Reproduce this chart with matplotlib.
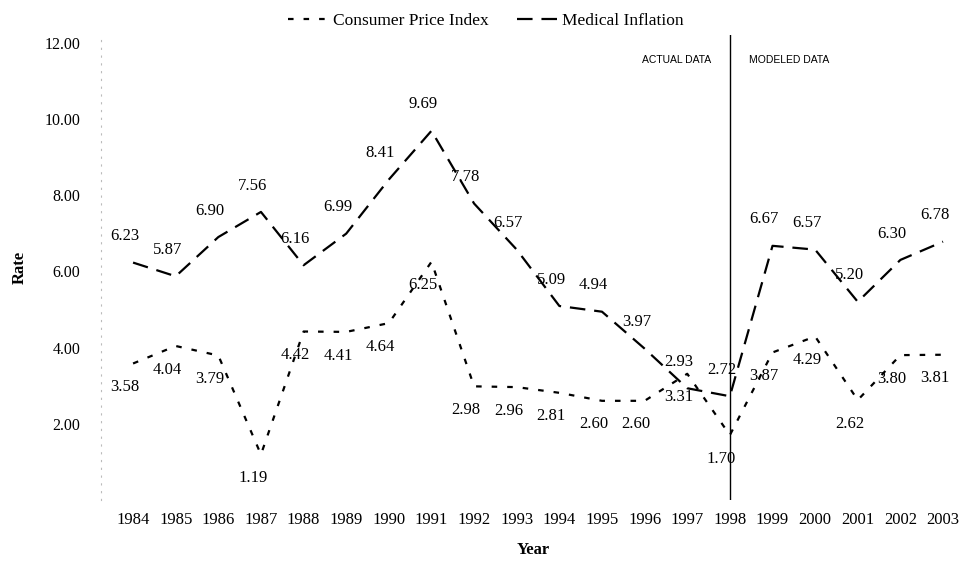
import matplotlib
matplotlib.use("Agg")
import matplotlib.pyplot as plt

years = list(range(1984, 2004))
cpi = [3.58, 4.04, 3.79, 1.19, 4.42, 4.41, 4.64, 6.25, 2.98, 2.96,
       2.81, 2.60, 2.60, 3.31, 1.70, 3.87, 4.29, 2.62, 3.80, 3.81]
medical = [6.23, 5.87, 6.90, 7.56, 6.16, 6.99, 8.41, 9.69, 7.78, 6.57,
           5.09, 4.94, 3.97, 2.93, 2.72, 6.67, 6.57, 5.20, 6.30, 6.78]
yticks = [2, 4, 6, 8, 10, 12]
split_year = 1998

serif = ["Liberation Serif", "DejaVu Serif"]
plt.rcParams["font.family"] = serif

fig = plt.figure(figsize=(9.72, 5.68), dpi=100)
ax = fig.add_axes([0.104, 0.12, 0.889, 0.818])

l1, = ax.plot(years, cpi, color="black", lw=1.6, linestyle=(0, (2.5, 4.5)),
              label="Consumer Price Index")
l2, = ax.plot(years, medical, color="black", lw=1.6, linestyle=(0, (7, 4)),
              label="Medical Inflation")

for x, v in zip(years, medical):
    ax.annotate(f"{v:.2f}", (x, v), xytext=(-6, 19), textcoords="offset points",
                ha="center", va="center", fontsize=12)
for x, v in zip(years, cpi):
    ax.annotate(f"{v:.2f}", (x, v), xytext=(-6, -17), textcoords="offset points",
                ha="center", va="center", fontsize=12)

ax.axvline(split_year, color="black", lw=1.0)
ax.text(split_year - 0.45, 11.55, "ACTUAL DATA", ha="right", va="center",
        fontsize=7.5, family=["Liberation Sans", "DejaVu Sans"])
ax.text(split_year + 0.45, 11.55, "MODELED DATA", ha="left", va="center",
        fontsize=7.5, family=["Liberation Sans", "DejaVu Sans"])

ax.set_xlim(1983.25, 2003.52)
ax.set_ylim(0, 12.2)
ax.set_xticks(years)
ax.set_xticklabels([str(y) for y in years], fontsize=12)
ax.set_yticks(yticks)
ax.set_yticklabels([f"{t:.2f}" for t in yticks], fontsize=11.5)
ax.tick_params(axis="y", length=0, pad=15)
ax.tick_params(axis="x", length=0, pad=9)

for s in ["top", "right", "bottom"]:
    ax.spines[s].set_visible(False)
ax.spines["left"].set_color("#bbbbbb")
ax.spines["left"].set_linestyle((0, (1, 6)))
ax.spines["left"].set_linewidth(0.8)

ax.set_ylabel("Rate", fontsize=12, fontweight="bold", labelpad=12)
ax.set_xlabel("Year", fontsize=12, fontweight="bold", labelpad=10)

fig.legend(handles=[l1, l2], loc="upper center", bbox_to_anchor=(0.5, 1.005),
           ncol=2, frameon=False, fontsize=12.5, handlelength=2.5,
           handletextpad=0.1, columnspacing=1.6)

fig.savefig("out.png", dpi=100)
